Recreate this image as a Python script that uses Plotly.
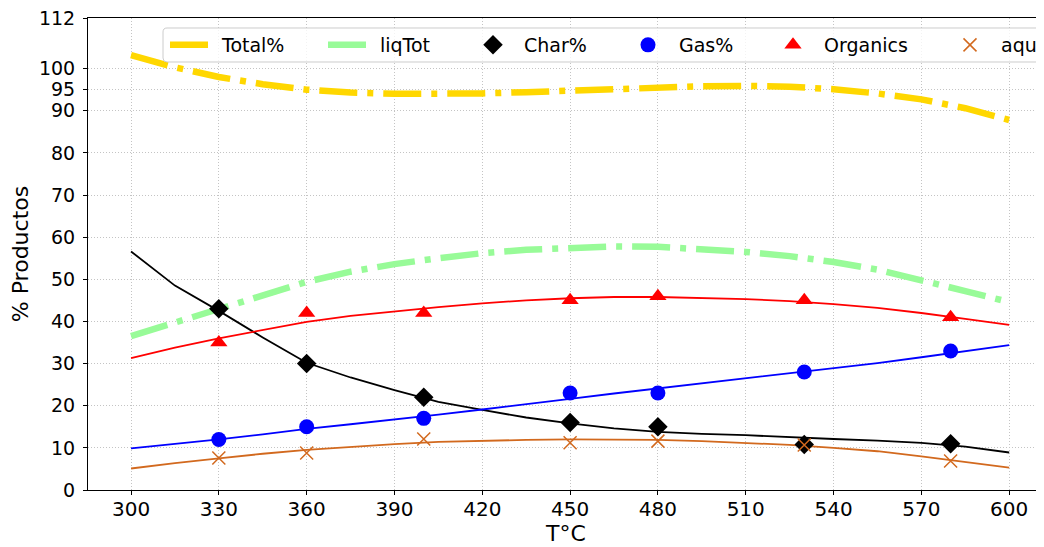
import plotly.graph_objects as go

# Measured points
T_pts = [330, 360, 400, 450, 480, 530, 580]
char_pts = [43.0, 30.0, 22.0, 16.0, 15.0, 10.8, 11.0]
gas_pts = [12.0, 15.0, 17.0, 23.0, 23.0, 28.0, 33.0]
org_pts = [35.0, 42.0, 42.0, 45.0, 46.0, 45.0, 41.0]
aqu_pts = [7.6, 8.8, 12.1, 11.2, 11.6, 10.7, 6.9]

# Fitted curves
T_fit = [300, 315, 330, 345, 360, 375, 390, 405, 420, 435, 450,
         465, 480, 495, 510, 525, 540, 555, 570, 585, 600]
total_fit = [103.2, 100.3, 98.0, 96.3, 95.0, 94.3, 94.0, 93.9, 94.1, 94.4, 94.8,
             95.2, 95.5, 95.8, 95.9, 95.7, 95.1, 94.1, 92.7, 90.6, 87.8]
liq_fit = [36.5, 39.8, 42.7, 46.2, 49.4, 51.8, 53.6, 55.0, 56.2, 57.0, 57.5,
           57.8, 57.7, 57.2, 56.5, 55.5, 54.1, 52.3, 49.9, 47.2, 44.6]
char_fit = [56.6, 48.5, 42.5, 36.2, 30.2, 26.7, 23.7, 20.9, 19.0, 17.2, 15.8,
            14.6, 13.8, 13.3, 13.0, 12.5, 12.1, 11.7, 11.2, 10.3, 8.9]
gas_fit = [9.9, 10.9, 12.0, 13.2, 14.5, 15.6, 16.7, 17.9, 19.1, 20.3, 21.6,
           22.9, 24.1, 25.4, 26.6, 27.8, 28.9, 30.1, 31.5, 33.0, 34.4]
org_fit = [31.3, 33.8, 36.0, 38.0, 39.9, 41.3, 42.4, 43.4, 44.3, 45.0, 45.5,
           45.8, 45.8, 45.6, 45.3, 44.8, 44.1, 43.2, 42.0, 40.6, 39.2]
aqu_fit = [5.1, 6.4, 7.5, 8.6, 9.5, 10.2, 10.9, 11.4, 11.7, 11.9, 12.0,
           12.0, 11.9, 11.6, 11.2, 10.7, 10.0, 9.2, 8.0, 6.7, 5.3]

x_ticks = [300, 330, 360, 390, 420, 450, 480, 510, 540, 570, 600]
y_ticks = [0, 10, 20, 30, 40, 50, 60, 70, 80, 90, 95, 100, 112]

GOLD = '#FFD700'
PALE = '#98FB98'
CHOC = '#D2691E'
DASH = '38px,10px,6px,10px'

# The page body adds an 8 px offset; figure is sized to fit the window.
OFF = 8
W, H = 1044 - OFF, 547 - OFF
ML, MR, MT, MB = 88 - OFF, 0, 18 - OFF, 547 - 490
PW = W - ML - MR
PH = H - MT - MB


def px_x(p):  # screen pixel -> paper x
    return (p - OFF - ML) / PW


def px_y(p):  # screen pixel -> paper y
    return (H - MB - (p - OFF)) / PH


fig = go.Figure()
fig.add_trace(go.Scatter(x=T_fit, y=char_fit, mode='lines', showlegend=False,
                         line=dict(color='black', width=1.8)))
fig.add_trace(go.Scatter(x=T_fit, y=gas_fit, mode='lines', showlegend=False,
                         line=dict(color='blue', width=1.8)))
fig.add_trace(go.Scatter(x=T_fit, y=org_fit, mode='lines', showlegend=False,
                         line=dict(color='red', width=1.8)))
fig.add_trace(go.Scatter(x=T_fit, y=aqu_fit, mode='lines', showlegend=False,
                         line=dict(color=CHOC, width=1.8)))
fig.add_trace(go.Scatter(x=T_fit, y=total_fit, mode='lines', name='Total%', legend='legend',
                         line=dict(color=GOLD, width=6.5, dash=DASH)))
fig.add_trace(go.Scatter(x=T_fit, y=liq_fit, mode='lines', name='liqTot', legend='legend2',
                         line=dict(color=PALE, width=6.5, dash=DASH)))
fig.add_trace(go.Scatter(x=T_pts, y=char_pts, mode='markers', name='Char%', legend='legend3',
                         marker=dict(symbol='diamond', size=15, color='black')))
fig.add_trace(go.Scatter(x=T_pts, y=gas_pts, mode='markers', name='Gas%', legend='legend4',
                         marker=dict(symbol='circle', size=15, color='blue')))
fig.add_trace(go.Scatter(x=T_pts, y=org_pts, mode='markers', name='Organics', legend='legend5',
                         marker=dict(symbol='triangle-up', size=15, color='red')))
fig.add_trace(go.Scatter(x=T_pts, y=aqu_pts, mode='markers', name='aqu', legend='legend6',
                         marker=dict(symbol='x-thin', size=13, color=CHOC,
                                     line=dict(color=CHOC, width=1.5))))

axis_common = dict(showline=True, linecolor='black', linewidth=1, mirror=True,
                   ticks='outside', ticklen=4, tickcolor='black', automargin=False,
                   ticklabeloverflow='allow',
                   showgrid=True, gridcolor='#c4c4c4', griddash='1px,2px', gridwidth=1,
                   zeroline=False)

# legend item origins (screen pixel x), item widths and vertical centre
leg_origins = [175, 333, 472, 627, 772, 949]
leg_itemw = [47, 47, 52, 52, 52, 52]
LEG_Y = 45
legends = {}
for i, ox in enumerate(leg_origins):
    key = 'legend' if i == 0 else 'legend%d' % (i + 1)
    legends[key] = dict(x=px_x(ox - 10), y=px_y(LEG_Y), xanchor='left', yanchor='middle',
                        bgcolor='rgba(0,0,0,0)', borderwidth=0, font=dict(size=19),
                        itemwidth=leg_itemw[i], orientation='h')

# legend frame (screen pixels)
bx0, bx1, by0, by1, r = 163, 1040, 28, 62, 4
X0, X1 = px_x(bx0), px_x(bx1)
Y0, Y1 = px_y(by0), px_y(by1)
rx, ry = r / PW, r / PH
frame_path = ('M %f,%f L %f,%f Q %f,%f %f,%f L %f,%f Q %f,%f %f,%f L %f,%f Q %f,%f %f,%f '
              'L %f,%f Q %f,%f %f,%f Z') % (
    X0 + rx, Y0, X1 - rx, Y0, X1, Y0, X1, Y0 - ry, X1, Y1 + ry, X1, Y1, X1 - rx, Y1,
    X0 + rx, Y1, X0, Y1, X0, Y1 + ry, X0, Y0 - ry, X0, Y0, X0 + rx, Y0)

fig.update_layout(
    width=W, height=H,
    margin=dict(l=ML, r=MR, t=MT, b=MB, autoexpand=False),
    paper_bgcolor='white', plot_bgcolor='white',
    font=dict(family='DejaVu Sans', color='black'),
    xaxis=dict(range=[285.3, 611.9], tickvals=x_ticks, ticklabelstandoff=-3,
               tickfont=dict(size=20, color='black'),
               title=dict(text='T°C', font=dict(size=22), standoff=5), **axis_common),
    yaxis=dict(range=[0, 112], tickvals=y_ticks, ticklabelstandoff=4,
               tickfont=dict(size=19, color='black'),
               title=dict(text='% Productos', font=dict(size=22), standoff=7), **axis_common),
    shapes=[dict(type='path', xref='paper', yref='paper', path=frame_path,
                 fillcolor='rgba(255,255,255,0.8)', line=dict(color='#cccccc', width=1),
                 layer='above')],
    **legends,
)

fig.write_html('out.html')
